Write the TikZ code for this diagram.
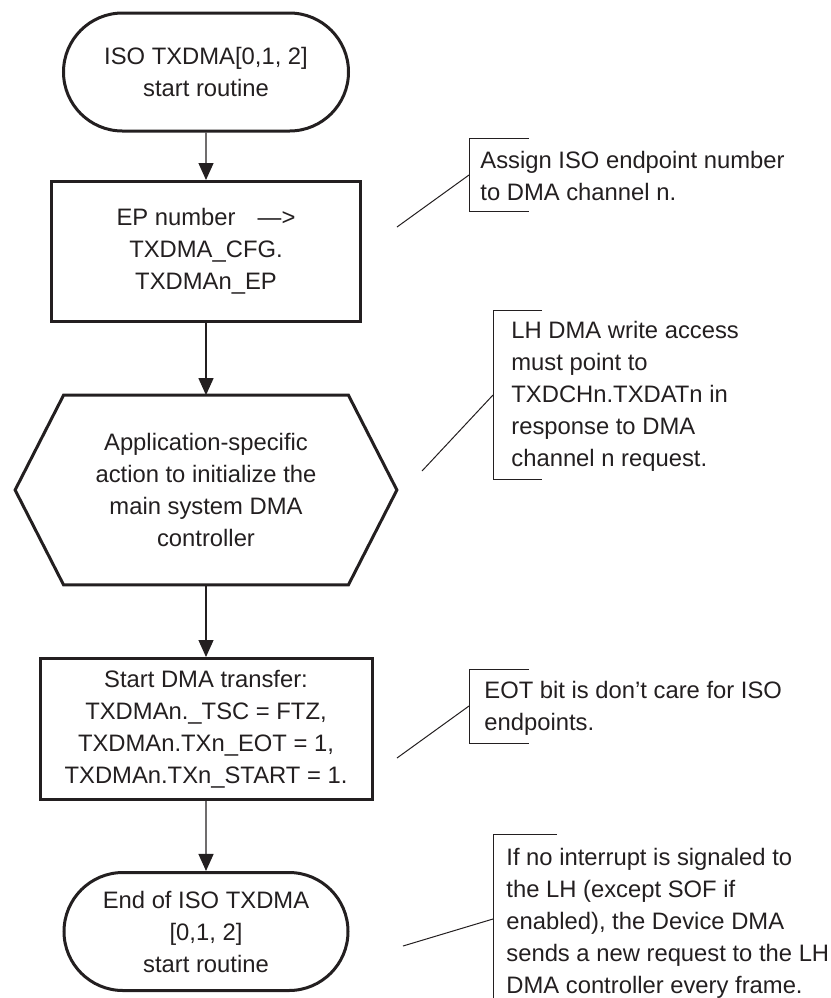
\documentclass[tikz,border=0pt]{standalone}
\usepackage{fontspec}
\setmainfont{Liberation Sans}
\usetikzlibrary{arrows.meta,shapes.misc}
\definecolor{ink}{RGB}{35,31,32}
\begin{document}
\begin{tikzpicture}[x=0.5pt,y=-0.5pt,
  every node/.style={font=\fontsize{11.9pt}{16pt}\selectfont, text=ink},
  term/.style={draw=ink, line width=1.5pt, rounded rectangle, minimum width=142.5pt, minimum height=59pt, inner sep=0pt, align=center},
  proc/.style={draw=ink, line width=1.5pt, rectangle, inner sep=0pt, align=center},
  flow/.style={draw=ink, line width=0.65pt, -{Triangle[length=8.5pt,width=7.5pt]}},
  note/.style={align=left, anchor=north west, inner sep=0pt},
  bracket/.style={draw=ink, line width=0.5pt},
  leader/.style={draw=ink, line width=0.5pt}]
\useasboundingbox (0,0) rectangle (831,998);

% flowchart
\node[term] (start) at (206,72) {ISO TXDMA[0,1, 2]\\start routine};
\node[proc, minimum width=154.5pt, minimum height=70pt] (ep) at (206,251.5)
  {EP number\hspace{0.93em}—>\\TXDMA\_CFG.\\TXDMAn\_EP};
\node[inner sep=0pt, minimum width=142pt, minimum height=94.5pt, align=center] (app) at (206,490)
  {Application-specific\\action to initialize the\\main system DMA\\controller};
\draw[draw=ink, line width=1.5pt, line join=miter]
  (app.north west) -- (app.north east) -- ([xshift=24.25pt]app.east) -- (app.south east)
  -- (app.south west) -- ([xshift=-24.25pt]app.west) -- cycle;
\node[proc, minimum width=166pt, minimum height=70.5pt] (xfer) at (206,729)
  {Start DMA transfer:\\TXDMAn.\_TSC = FTZ,\\TXDMAn.TXn\_EOT = 1,\\TXDMAn.TXn\_START = 1.};
\node[term, minimum width=142pt, minimum height=59pt] (stop) at (206,931.5)
  {End of ISO TXDMA\\{}[0,1, 2]\\start routine};

\draw[flow] (start) -- (ep);
\draw[flow] (ep) -- (app);
\draw[flow] (app) -- (xfer);
\draw[flow] (xfer) -- (stop);

% annotation 1
\node[note] (n1) at (480,150.5) {Assign ISO endpoint number\\to DMA channel n.};
\draw[bracket] (529,138) -- (469,138) -- (469,211) -- (529,211);
\coordinate (l1a) at (397,227);
\coordinate (l1b) at (469,175);
\draw[leader] (l1a) -- (l1b);

% annotation 2
\node[note] (n2) at (511,320.5) {LH DMA write access\\must point to\\TXDCHn.TXDATn in\\response to DMA\\channel n request.};
\draw[bracket] (542,310) -- (493,310) -- (493,479) -- (542,479);
\coordinate (l2a) at (422,471);
\coordinate (l2b) at (493,395);
\draw[leader] (l2a) -- (l2b);

% annotation 3
\node[note] (n3) at (484,681) {EOT bit is don’t care for ISO\\endpoints.};
\draw[bracket] (529,669) -- (469,669) -- (469,743) -- (529,743);
\coordinate (l3a) at (397,758);
\coordinate (l3b) at (469,706);
\draw[leader] (l3a) -- (l3b);

% annotation 4
\node[note] (n4) at (506,847.5) {If no interrupt is signaled to\\the LH (except SOF if\\enabled), the Device DMA\\sends a new request to the LH\\DMA controller every frame.};
\draw[bracket] (557,834) -- (493,834) -- (493,998);
\coordinate (l4a) at (403,946);
\coordinate (l4b) at (493,919);
\draw[leader] (l4a) -- (l4b);
\end{tikzpicture}
\end{document}
